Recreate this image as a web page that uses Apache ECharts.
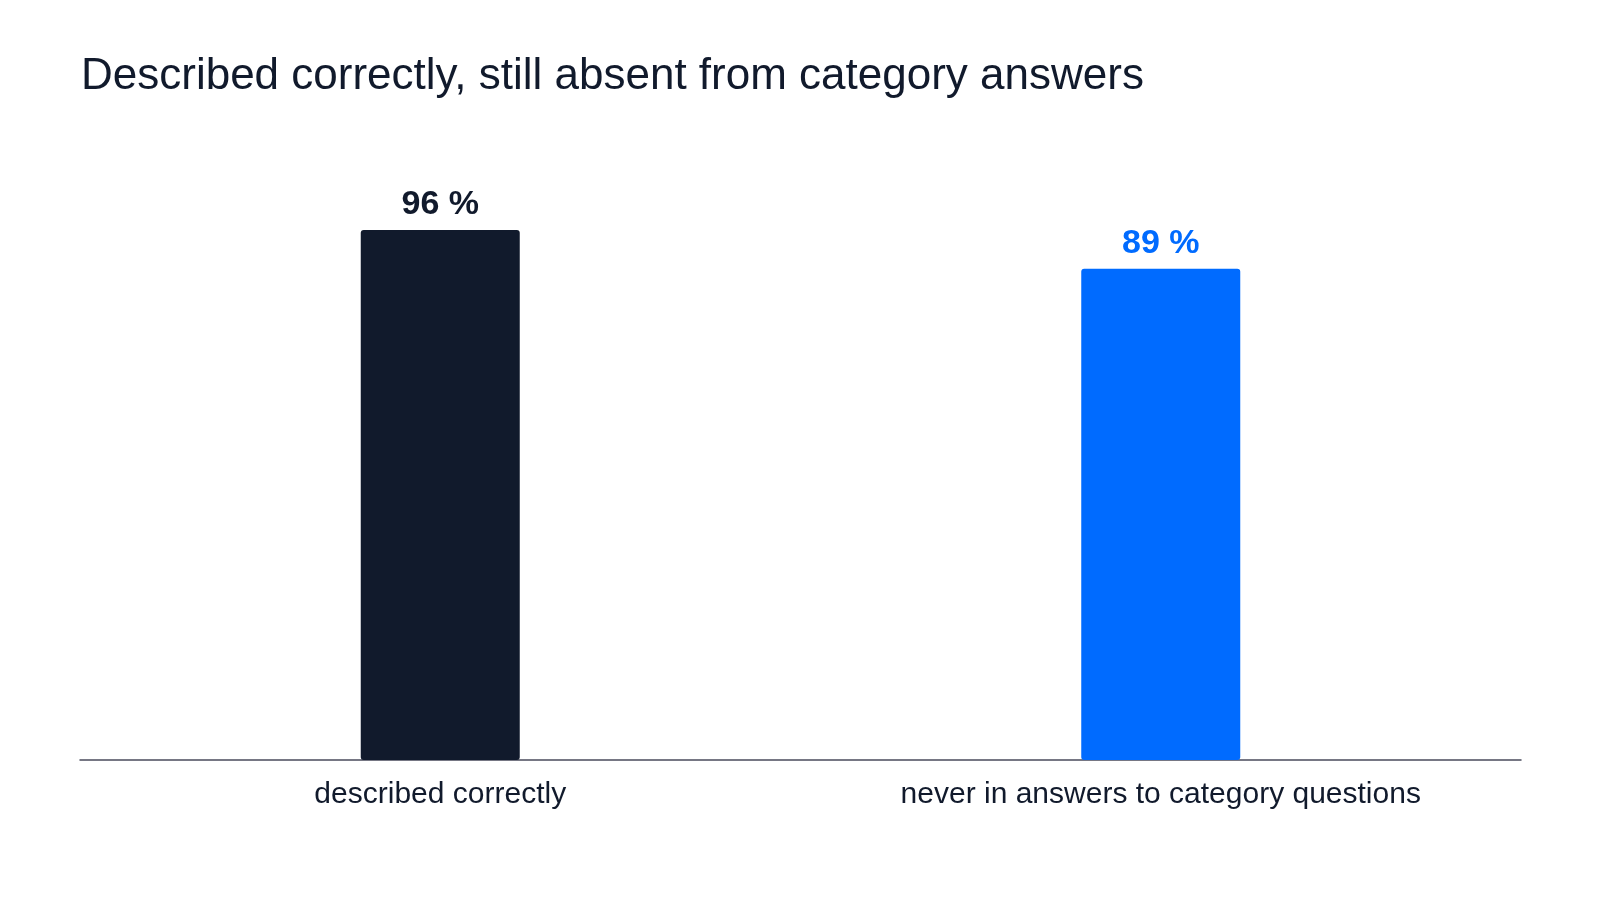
<!doctype html>
<html>
<head>
<meta charset="UTF-8">
<title>Described correctly, still absent from category answers</title>
<script src="https://cdn.jsdelivr.net/npm/echarts@6/dist/echarts.min.js"></script>
<style>
  html, body { margin: 0; padding: 0; background: #ffffff; }
  #main { width: 1600px; height: 900px; }
</style>
</head>
<body>
<div id="main"></div>
<script>
// data
var categories = ['described correctly', 'never in answers to category questions'];
var values = [96, 89];
var barColors = ['#111a2c', '#006bff'];

var chart = echarts.init(document.getElementById('main'));

var option = {
    backgroundColor: '#ffffff',
    textStyle: { fontFamily: 'Liberation Sans, Arial, sans-serif' },
    title: {
        text: 'Described correctly, still absent from category answers',
        left: 76,
        top: 50,
        textStyle: { fontSize: 44, fontWeight: 'normal', color: '#111a2c' }
    },
    grid: { left: 80, right: 79, top: 208, bottom: 140, containLabel: false },
    xAxis: {
        type: 'category',
        data: categories,
        axisLine: { lineStyle: { color: '#4a4b5c', width: 1.5 } },
        axisTick: { show: false },
        axisLabel: { fontSize: 30, color: '#111a2c', margin: 20 }
    },
    yAxis: {
        type: 'value',
        min: 0,
        max: 100,
        show: false,
        splitLine: { show: false }
    },
    series: [{
        type: 'bar',
        barWidth: 159,
        data: values.map(function (v, i) {
            return {
                value: v,
                itemStyle: { color: barColors[i], borderRadius: 3 },
                label: { color: barColors[i] }
            };
        }),
        label: {
            show: true,
            position: 'top',
            distance: 8,
            fontSize: 34,
            fontWeight: 'bold',
            formatter: function (p) { return p.value + ' %'; }
        }
    }]
};

chart.setOption(option);
</script>
</body>
</html>
